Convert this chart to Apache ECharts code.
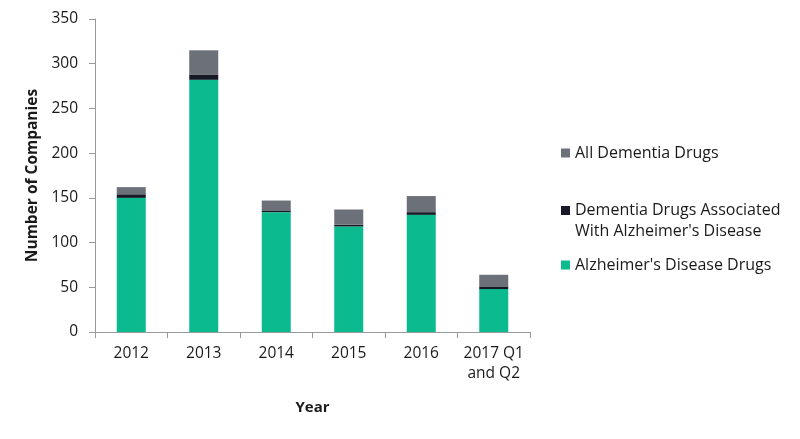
<!DOCTYPE html>
<html><head><meta charset="utf-8">
<script src="https://cdn.jsdelivr.net/npm/echarts@6/dist/echarts.min.js"></script>
<style>html,body{margin:0;padding:0;background:#fff}#c{width:800px;height:439px}</style>
</head><body><div id="c"></div>
<script>
const categories = ['2012', '2013', '2014', '2015', '2016', '2017 Q1\nand Q2'];
const alzheimersDrugs = [150, 282, 134, 118, 131, 48];
const associatedDrugs = [4, 6, 2, 2, 3, 3];
const allDementiaDrugs = [8, 27, 11, 17, 18, 13];
const yTicks = [0, 50, 100, 150, 200, 250, 300, 350];

const FONT = 'Open Sans';
const chart = echarts.init(document.getElementById('c'));
const legendText = {fontFamily: FONT, fontSize: 16, color: '#1a1a1a'};
const legendBase = {orient: 'vertical', left: 561, padding: 0, itemWidth: 9, itemHeight: 9, itemGap: 6, icon: 'rect'};
chart.setOption({
  animation: false,
  grid: {left: 95, right: 270, top: 19, bottom: 107},
  legend: [
    Object.assign({data: ['All Dementia Drugs'], top: 145, textStyle: legendText}, legendBase),
    Object.assign({data: ['Dementia Drugs Associated With Alzheimer\'s Disease'], top: 179,
      formatter: () => ' \nDementia Drugs Associated\nWith Alzheimer\'s Disease',
      textStyle: Object.assign({lineHeight: 21}, legendText)}, legendBase),
    Object.assign({data: ['Alzheimer\'s Disease Drugs'], top: 257, textStyle: legendText}, legendBase)
  ],
  xAxis: {
    type: 'category', data: categories,
    name: 'Year', nameLocation: 'middle', nameGap: 68,
    nameTextStyle: {fontFamily: FONT, fontSize: 15, fontWeight: 'bold', color: '#1a1a1a'},
    axisLine: {lineStyle: {color: '#9a9a9a'}},
    axisTick: {show: true, alignWithLabel: false, length: 6, lineStyle: {color: '#9a9a9a'}},
    axisLabel: {fontFamily: FONT, fontSize: 15.5, color: '#1a1a1a', margin: 12, lineHeight: 20, interval: 0}
  },
  yAxis: {
    type: 'value', min: 0, max: 350, interval: 50,
    name: 'Number of Companies', nameLocation: 'middle', nameGap: 54, nameRotate: 90,
    nameTextStyle: {fontFamily: FONT, fontSize: 15.5, fontWeight: 'bold', color: '#1a1a1a'},
    axisLine: {show: true, lineStyle: {color: '#9a9a9a'}},
    axisTick: {show: true, length: 6, lineStyle: {color: '#9a9a9a'}},
    splitLine: {show: false},
    axisLabel: {fontFamily: FONT, fontSize: 15.5, color: '#1a1a1a', margin: 17,
      formatter: v => yTicks.includes(v) ? String(v) : ''}
  },
  series: [
    {name: 'Alzheimer\'s Disease Drugs', type: 'bar', stack: 't', data: alzheimersDrugs, barWidth: 29, itemStyle: {color: '#0bba8f'}},
    {name: 'Dementia Drugs Associated With Alzheimer\'s Disease', type: 'bar', stack: 't', data: associatedDrugs, itemStyle: {color: '#171a26'}},
    {name: 'All Dementia Drugs', type: 'bar', stack: 't', data: allDementiaDrugs, itemStyle: {color: '#6b7079'}}
  ]
});
</script></body></html>
